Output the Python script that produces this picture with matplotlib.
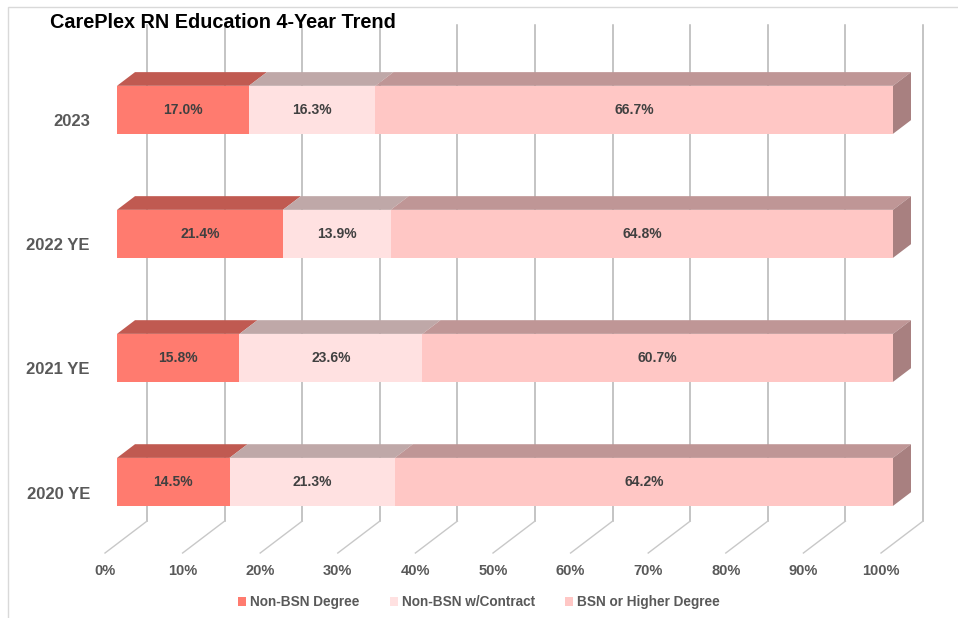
import matplotlib
matplotlib.use("Agg")
import matplotlib.pyplot as plt
import numpy as np
from matplotlib.patches import Polygon, Patch, Rectangle

plt.rcParams['font.family'] = ['Liberation Sans', 'DejaVu Sans']

# data
years = ['2020 YE', '2021 YE', '2022 YE', '2023']
non_bsn = [14.5, 15.8, 21.4, 17.0]
contract = [21.3, 23.6, 13.9, 16.3]
bsn = [64.2, 60.7, 64.8, 66.7]
series_names = ['Non-BSN Degree', 'Non-BSN w/Contract', 'BSN or Higher Degree']
xticks = np.arange(0, 101, 10)

# colours: front face, top face
front_cols = ['#ff7b6f', '#ffe1e1', '#ffc7c5']
top_cols = ['#c05a51', '#bfa8a8', '#bf9696']
side_col = '#a88080'
grid_col = '#b4b4b4'
text_col = '#595959'

fig = plt.figure(figsize=(9.58, 6.18), dpi=100)
ax = fig.add_axes([117 / 958, 74.1 / 618, 776 / 958, 496.1 / 618])
ax.set_xlim(0, 100)
ax.set_ylim(-0.5, 3.5)
ax.axis('off')

slope = 0.76          # vertical rise per pixel of depth
z_front, z_bar, z_wall = -12, 18, 30
bar_h = 0.387


def proj(x, y, z):
    px, py = ax.transData.transform((x, y))
    return ax.transData.inverted().transform((px + z, py + slope * z))


# back wall gridlines and floor lines
for t in xticks:
    a = proj(t, -0.5, z_wall)
    b = proj(t, 3.5, z_wall)
    c = proj(t, -0.5, z_front)
    ax.plot([a[0], b[0]], [a[1], b[1]], color=grid_col, lw=1.1, zorder=1, clip_on=False)
    ax.plot([a[0], c[0]], [a[1], c[1]], color='#c8c8c8', lw=1.0, zorder=1, clip_on=False)
    lp = proj(t, -0.5, z_front)
    ax.annotate(f'{t}%', lp, xytext=(0, -18), textcoords='offset pixels',
                ha='center', va='center', fontsize=10.5, fontweight='bold',
                color=text_col, annotation_clip=False)

data = np.array([non_bsn, contract, bsn])
totals = data.sum(axis=0)
shares = data / totals * 100
lefts = np.vstack([np.zeros(len(years)), np.cumsum(shares, axis=0)[:-1]])

for i, yr in enumerate(years):
    top = i + bar_h / 2
    bot = i - bar_h / 2
    for s in range(3):
        x0 = lefts[s, i]
        x1 = x0 + shares[s, i]
        pts = [proj(x0, top, 0), proj(x1, top, 0), proj(x1, top, z_bar), proj(x0, top, z_bar)]
        ax.add_patch(Polygon(pts, closed=True, facecolor=top_cols[s], edgecolor='none',
                             zorder=2, clip_on=False))
    xr = lefts[2, i] + shares[2, i]
    pts = [proj(xr, bot, 0), proj(xr, top, 0), proj(xr, top, z_bar), proj(xr, bot, z_bar)]
    ax.add_patch(Polygon(pts, closed=True, facecolor=side_col, edgecolor='none',
                         zorder=2, clip_on=False))
    lp = proj(0, i, z_front)
    ax.annotate(yr, lp, xytext=(-15, -3), textcoords='offset pixels',
                ha='right', va='center', fontsize=12, fontweight='bold',
                color=text_col, annotation_clip=False)

for s in range(3):
    bars = ax.barh(range(len(years)), shares[s], left=lefts[s], height=bar_h,
                   color=front_cols[s], edgecolor='none', zorder=3, clip_on=False)
    ax.bar_label(bars, labels=[f'{v:.1f}%' for v in data[s]], label_type='center',
                 fontsize=10, fontweight='bold', color='#404040', zorder=4)

fig.text(50 / 958, 1 - 22 / 618, 'CarePlex RN Education 4-Year Trend',
         ha='left', va='center', fontsize=14.3, fontweight='bold', color='black')

fig.patches.append(Rectangle((8 / 958, -0.1), 1.2, 1.1 - 7 / 618, transform=fig.transFigure,
                             fill=False, edgecolor='#d9d9d9', lw=1))

handles = [Patch(facecolor=c, edgecolor='none') for c in front_cols]
fig.legend(handles, series_names, loc='center', bbox_to_anchor=(0.5, 1 - 602 / 618),
           ncol=3, frameon=False, handlelength=0.6, handleheight=0.6,
           handletextpad=0.3, columnspacing=2.2, labelcolor=text_col,
           prop={'family': 'Liberation Sans', 'weight': 'bold', 'size': 9.8})

fig.savefig('out.png', dpi=100)
